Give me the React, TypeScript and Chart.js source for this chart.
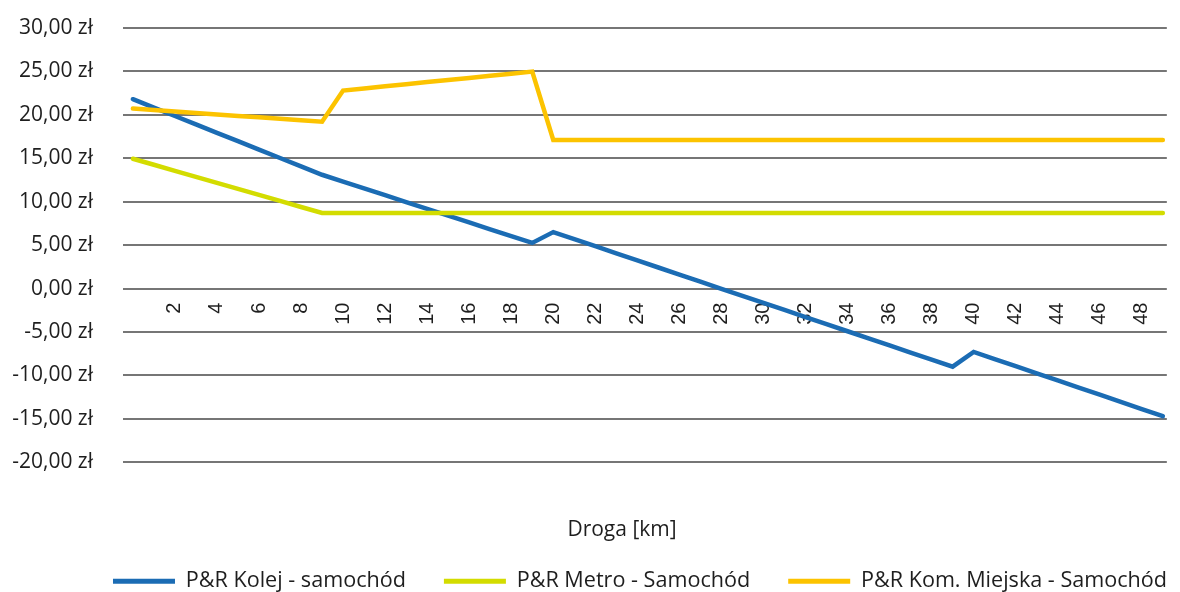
import { useEffect, useRef } from "react";
import { Chart, registerables } from "chart.js";

Chart.register(...registerables);

// Distance in km (one point per kilometre)
const kilometres = [
  0, 1, 2, 3, 4, 5, 6, 7, 8, 9,
  10, 11, 12, 13, 14, 15, 16, 17, 18, 19,
  20, 21, 22, 23, 24, 25, 26, 27, 28, 29,
  30, 31, 32, 33, 34, 35, 36, 37, 38, 39,
  40, 41, 42, 43, 44, 45, 46, 47, 48, 49,
];

// Cost difference P&R rail vs car (zł)
const kolejValues = [
  21.8, 20.83, 19.87, 18.9, 17.93, 16.97, 16.0, 15.03, 14.07, 13.1,
  12.32, 11.53, 10.75, 9.96, 9.18, 8.39, 7.61, 6.82, 6.04, 5.25,
  6.5, 5.68, 4.87, 4.05, 3.24, 2.42, 1.6, 0.79, -0.03, -0.84,
  -1.66, -2.47, -3.29, -4.11, -4.92, -5.74, -6.55, -7.37, -8.18, -9.0,
  -7.3, -8.12, -8.94, -9.77, -10.59, -11.41, -12.23, -13.06, -13.88, -14.7,
];

// Cost difference P&R metro vs car (zł)
const metroValues = [
  14.94, 14.25, 13.55, 12.86, 12.17, 11.47, 10.78, 10.09, 9.39, 8.7,
  8.7, 8.7, 8.7, 8.7, 8.7, 8.7, 8.7, 8.7, 8.7, 8.7,
  8.7, 8.7, 8.7, 8.7, 8.7, 8.7, 8.7, 8.7, 8.7, 8.7,
  8.7, 8.7, 8.7, 8.7, 8.7, 8.7, 8.7, 8.7, 8.7, 8.7,
  8.7, 8.7, 8.7, 8.7, 8.7, 8.7, 8.7, 8.7, 8.7, 8.7,
];

// Cost difference P&R public transport vs car (zł)
const komunikacjaValues = [
  20.72, 20.55, 20.38, 20.21, 20.04, 19.88, 19.71, 19.54, 19.37, 19.2,
  22.8, 23.04, 23.28, 23.53, 23.77, 24.01, 24.25, 24.5, 24.74, 24.98,
  17.1, 17.1, 17.1, 17.1, 17.1, 17.1, 17.1, 17.1, 17.1, 17.1,
  17.1, 17.1, 17.1, 17.1, 17.1, 17.1, 17.1, 17.1, 17.1, 17.1,
  17.1, 17.1, 17.1, 17.1, 17.1, 17.1, 17.1, 17.1, 17.1, 17.1,
];

const seriesNames = [
  "P&R Kolej - samochód",
  "P&R Metro - Samochód",
  "P&R Kom. Miejska - Samochód",
];

const xTickValues = [
  2, 4, 6, 8, 10, 12, 14, 16, 18, 20, 22, 24,
  26, 28, 30, 32, 34, 36, 38, 40, 42, 44, 46, 48,
];
const yTickValues = [-20, -15, -10, -5, 0, 5, 10, 15, 20, 25, 30];

const axisTitle = "Droga [km]";

const TEXT = "#1e1e1e";
const FONT = "'Open Sans', sans-serif";

const formatZl = (v: number) => v.toFixed(2).replace(".", ",") + " zł";

const toPoints = (values: number[]) =>
  kilometres.map((km, i) => ({ x: km, y: values[i] }));

// Nudges the bottom title and legend rows to the right of the canvas centre
const blockShift = {
  id: "blockShift",
  afterLayout(chart: any) {
    const t = chart.titleBlock;
    if (t) {
      t.left += 36;
      t.right += 36;
    }
    const l = chart.legend;
    if (l) {
      l.left += 54;
      l.right += 54;
    }
  },
};

export default function App() {
  const canvasRef = useRef<HTMLCanvasElement>(null);

  useEffect(() => {
    document.body.style.margin = "0";
    const canvas = canvasRef.current;
    if (!canvas) return;

    const lineStyle = {
      borderWidth: 4.5,
      pointRadius: 0,
      pointHoverRadius: 0,
      tension: 0,
      borderCapStyle: "round" as const,
      fill: false,
    };

    const chart = new Chart(canvas, {
      type: "line",
      data: {
        datasets: [
          {
            ...lineStyle,
            label: seriesNames[0],
            data: toPoints(kolejValues),
            borderColor: "#1b6cb4",
            backgroundColor: "#1b6cb4",
            order: 3,
          },
          {
            ...lineStyle,
            label: seriesNames[1],
            data: toPoints(metroValues),
            borderColor: "#d3dc00",
            backgroundColor: "#d3dc00",
            order: 2,
          },
          {
            ...lineStyle,
            label: seriesNames[2],
            data: toPoints(komunikacjaValues),
            borderColor: "#fcc300",
            backgroundColor: "#fcc300",
            order: 1,
          },
        ],
      },
      options: {
        animation: false,
        responsive: false,
        events: [],
        layout: { padding: { left: 0, right: 8, top: 28, bottom: -10 } },
        scales: {
          x: {
            type: "linear",
            position: { y: 0 },
            min: -0.47,
            max: 49.19,
            grid: { display: false, drawTicks: false },
            border: { display: false },
            afterBuildTicks: (axis: any) => {
              axis.ticks = xTickValues.map((value) => ({ value }));
            },
            ticks: {
              autoSkip: false,
              minRotation: 90,
              maxRotation: 90,
              padding: 14,
              color: TEXT,
              font: { family: "'Liberation Sans', Arial, sans-serif", size: 20 },
              callback: (v: any) => String(v),
            },
          },
          y: {
            min: -20,
            max: 30,
            afterBuildTicks: (axis: any) => {
              axis.ticks = yTickValues.map((value) => ({ value }));
            },
            afterFit: (axis: any) => {
              axis.width = 123;
              axis.paddingTop = 0;
              axis.paddingBottom = 0;
            },
            grid: { color: "#767676", lineWidth: 2, drawTicks: false },
            border: { display: false },
            ticks: {
              padding: 30,
              color: TEXT,
              font: { family: FONT, size: 21 },
              callback: (v: any) => formatZl(Number(v)),
            },
          },
        },
        plugins: {
          tooltip: { enabled: false },
          title: {
            display: true,
            position: "bottom",
            weight: 500,
            text: axisTitle,
            color: TEXT,
            font: { family: FONT, size: 21, weight: "normal" },
            padding: { top: 55, bottom: -10 },
          },
          legend: {
            position: "bottom",
            align: "center",
            labels: {
              boxWidth: 62,
              boxHeight: 5,
              padding: 38,
              color: TEXT,
              font: { family: FONT, size: 21.6 },
              sort: (a: any, b: any) => a.datasetIndex - b.datasetIndex,
              generateLabels: (c: any) =>
                Chart.defaults.plugins.legend.labels
                  .generateLabels(c)
                  .map((item: any) => ({
                    ...item,
                    fillStyle: item.strokeStyle,
                    lineWidth: 0,
                  })),
            },
          },
        },
      } as any,
      plugins: [blockShift],
    });

    return () => chart.destroy();
  }, []);

  return (
    <div style={{ width: 1180, height: 592 }}>
      <canvas ref={canvasRef} width={1180} height={592} style={{ display: "block" }} />
    </div>
  );
}
